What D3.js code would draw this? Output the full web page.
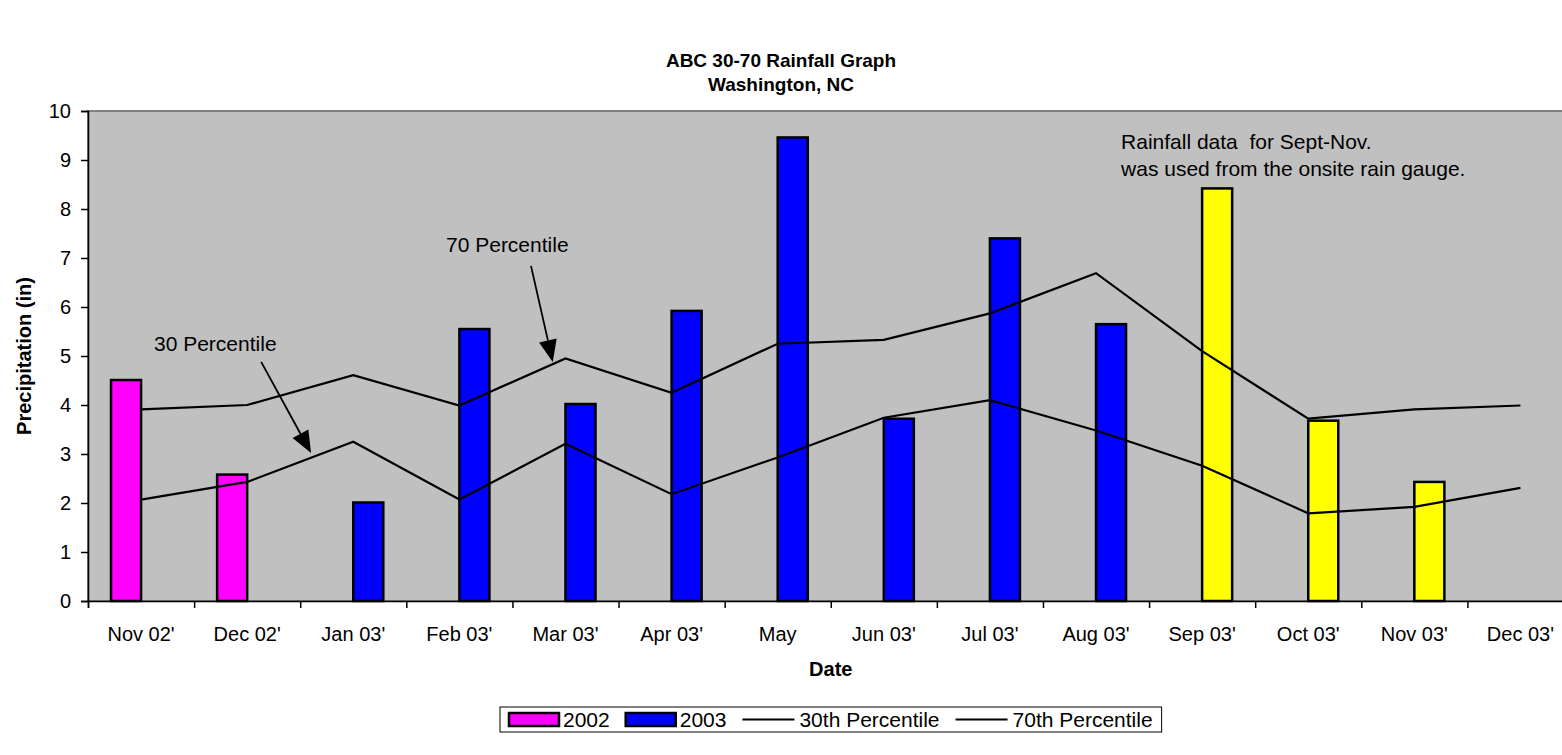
<!DOCTYPE html>
<html><head><meta charset="utf-8">
<script src="https://cdn.jsdelivr.net/npm/d3@7"></script>
<style>
html,body{margin:0;padding:0;background:#fff;overflow:hidden}
text{font-family:"Liberation Sans",Arial,sans-serif;fill:#000}
</style></head>
<body><svg id="c" width="1562" height="755"></svg>
<script>
const categories = ["Nov 02'","Dec 02'","Jan 03'","Feb 03'","Mar 03'","Apr 03'","May","Jun 03'","Jul 03'","Aug 03'","Sep 03'","Oct 03'","Nov 03'","Dec 03'"];
const rain2002 = [4.51, 2.58, null, null, null, null, null, null, null, null, null, null, null, null];
const rain2003 = [null, null, 2.01, 5.55, 4.02, 5.92, 9.46, 3.72, 7.40, 5.65, 8.42, 3.68, 2.43, null];
const onsiteGauge = [false,false,false,false,false,false,false,false,false,false,true,true,true,false];
const pct30 = [2.07, 2.43, 3.25, 2.07, 3.21, 2.18, 2.93, 3.74, 4.10, 3.48, 2.76, 1.79, 1.92, 2.31];
const pct70 = [3.91, 4.00, 4.61, 3.99, 4.95, 4.25, 5.25, 5.33, 5.87, 6.69, 5.10, 3.72, 3.91, 3.99];
const yTicks = [0,1,2,3,4,5,6,7,8,9,10];
const legendItems = [
  {label:"2002", type:"bar", color:"#FF00FF"},
  {label:"2003", type:"bar", color:"#0000FF"},
  {label:"30th Percentile", type:"line"},
  {label:"70th Percentile", type:"line"}
];

const svg = d3.select("#c");
const L = 88, R = 1573.5, T = 111, B = 601;
const x = d3.scaleBand().domain(categories).range([L, R]).padding(0);
const xi = d3.scaleLinear().domain([0, categories.length]).range([L, R]);
const y = d3.scaleLinear().domain([0, 10]).range([B, T]);
const bw = x.bandwidth() * 0.283;
const cx = c => x(c) + x.bandwidth() / 2;

// plot area
svg.append("rect").attr("x", L).attr("y", T).attr("width", R - L).attr("height", B - T)
  .attr("fill", "#C0C0C0").attr("stroke", "#808080").attr("stroke-width", 2);

// bars 2002
svg.append("g").selectAll("rect").data(categories.map((c,i)=>({c, v:rain2002[i]})).filter(d=>d.v!=null))
  .join("rect")
  .attr("x", d => cx(d.c) - bw).attr("width", bw)
  .attr("y", d => y(d.v)).attr("height", d => y(0) - y(d.v))
  .attr("fill", "#FF00FF").attr("stroke", "#000").attr("stroke-width", 2.5);
// bars 2003
svg.append("g").selectAll("rect").data(categories.map((c,i)=>({c, v:rain2003[i], g:onsiteGauge[i]})).filter(d=>d.v!=null))
  .join("rect")
  .attr("x", d => cx(d.c)).attr("width", bw)
  .attr("y", d => y(d.v)).attr("height", d => y(0) - y(d.v))
  .attr("fill", d => d.g ? "#FFFF00" : "#0000FF").attr("stroke", "#000").attr("stroke-width", 2.5);

// lines
const line = d3.line().x((d,i) => cx(categories[i])).y(d => y(d));
[pct30, pct70].forEach(s => {
  svg.append("path").attr("d", line(s)).attr("fill", "none").attr("stroke", "#000").attr("stroke-width", 2.2);
});

// axes
const yAxis = svg.append("g").attr("transform", `translate(${L},0)`)
  .call(d3.axisLeft(y).tickValues(yTicks).tickSize(7).tickPadding(10).tickFormat(d3.format("d")));
yAxis.selectAll("text").style("font-size", "20px");
const xTicksAx = svg.append("g").attr("transform", `translate(0,${B})`)
  .call(d3.axisBottom(xi).tickValues(d3.range(categories.length + 1)).tickSize(7).tickFormat(""));
const xAxis = svg.append("g").attr("transform", `translate(0,${B})`)
  .call(d3.axisBottom(x).tickSize(0).tickPadding(26));
xAxis.selectAll("text").style("font-size", "20px");
xAxis.select(".domain").remove();
svg.selectAll(".domain").attr("stroke", "#000").attr("stroke-width", 1.5);
svg.selectAll(".tick line").attr("stroke", "#000").attr("stroke-width", 1.5);

// titles
svg.append("text").attr("x", 781).attr("y", 67).attr("text-anchor", "middle")
  .style("font-size", "19px").style("font-weight", "bold").text("ABC 30-70 Rainfall Graph");
svg.append("text").attr("x", 781).attr("y", 91).attr("text-anchor", "middle")
  .style("font-size", "19px").style("font-weight", "bold").text("Washington, NC");
svg.append("text").attr("transform", `translate(31,${(T+B)/2}) rotate(-90)`).attr("text-anchor", "middle")
  .style("font-size", "20px").style("font-weight", "bold").text("Precipitation (in)");
svg.append("text").attr("x", (L+R)/2).attr("y", 676).attr("text-anchor", "middle")
  .style("font-size", "20px").style("font-weight", "bold").text("Date");

// annotations (positioned in data space)
function arrow(t0, v0, t1, v1) {
  const x0 = xi(t0), y0 = y(v0), x1 = xi(t1), y1 = y(v1);
  const a = Math.atan2(y1 - y0, x1 - x0), len = 22, hw = 9;
  const bx = x1 - len * Math.cos(a), by = y1 - len * Math.sin(a);
  svg.append("line").attr("x1", x0).attr("y1", y0).attr("x2", bx).attr("y2", by)
    .attr("stroke", "#000").attr("stroke-width", 1.8);
  const p = [[x1, y1], [bx + hw * Math.sin(a), by - hw * Math.cos(a)], [bx - hw * Math.sin(a), by + hw * Math.cos(a)]];
  svg.append("path").attr("d", "M" + p.map(q => q.join(",")).join("L") + "Z").attr("fill", "#000");
}
svg.append("text").attr("x", xi(0.622)).attr("y", y(5.11)).style("font-size", "21px").text("30 Percentile");
arrow(1.632, 4.88, 2.102, 3.02);
svg.append("text").attr("x", xi(3.374)).attr("y", y(7.12)).style("font-size", "21px").text("70 Percentile");
arrow(4.175, 6.84, 4.38, 4.88);
svg.append("text").attr("x", xi(9.736)).attr("y", y(9.22)).style("font-size", "21px").attr("xml:space","preserve").style("white-space","pre").text("Rainfall data  for Sept-Nov.");
svg.append("text").attr("x", xi(9.736)).attr("y", y(8.67)).style("font-size", "21px").text("was used from the onsite rain gauge.");

// legend
const lg = svg.append("g");
const lx0 = 500, ly0 = 707, lh = 25;
let cur = lx0 + 9;
legendItems.forEach(it => {
  const g = lg.append("g");
  if (it.type === "bar") {
    g.append("rect").attr("x", cur).attr("y", ly0 + 6).attr("width", 50).attr("height", 13)
      .attr("fill", it.color).attr("stroke", "#000").attr("stroke-width", 2.5);
    cur += 54;
  } else {
    g.append("line").attr("x1", cur).attr("x2", cur + 52).attr("y1", ly0 + lh/2).attr("y2", ly0 + lh/2)
      .attr("stroke", "#000").attr("stroke-width", 2);
    cur += 57;
  }
  const t = g.append("text").attr("x", cur).attr("y", ly0 + 20).style("font-size", "21px").text(it.label);
  cur += t.node().getComputedTextLength() + 16;
});
lg.insert("rect", ":first-child").attr("x", lx0).attr("y", ly0).attr("width", cur - lx0 - 7).attr("height", lh)
  .attr("fill", "#fff").attr("stroke", "#000").attr("stroke-width", 1);
</script></body></html>
